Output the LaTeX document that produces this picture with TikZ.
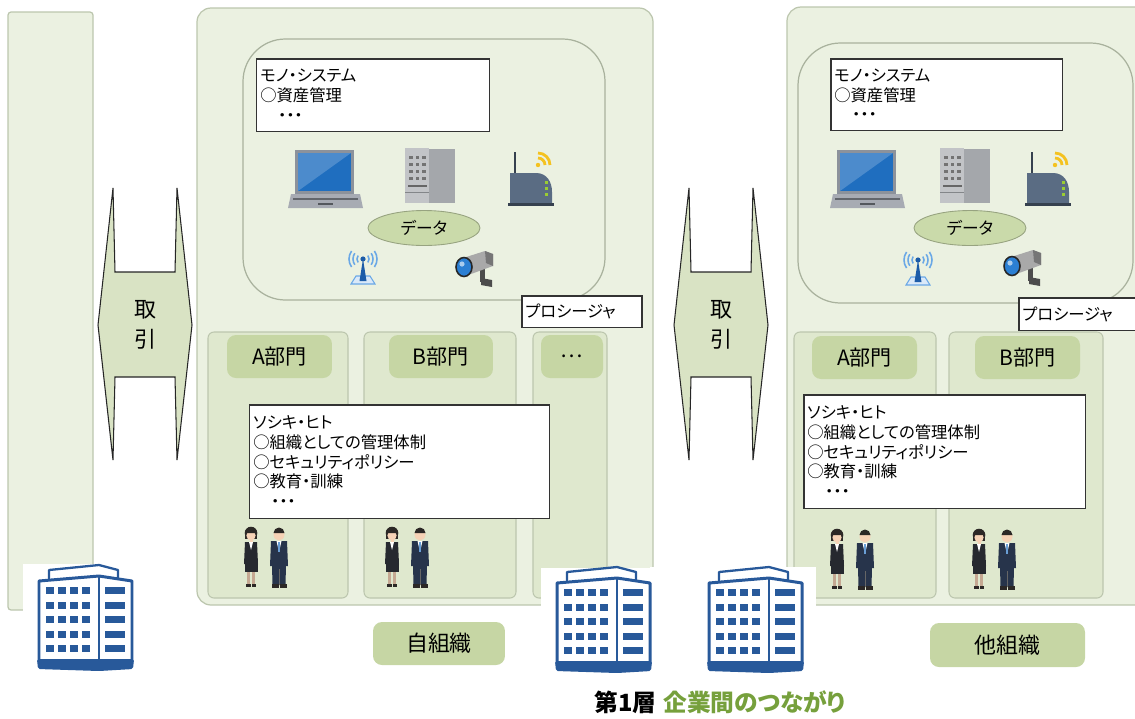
\documentclass[tikz,border=0pt]{standalone}
\usepackage{fontspec}
\newfontfamily\jp{Noto Sans CJK JP}[RawFeature=+palt]
\usetikzlibrary{shapes.geometric}

\definecolor{panelfill}{HTML}{EBF1E1}
\definecolor{panelline}{HTML}{BCC6AE}
\definecolor{deptfill}{HTML}{DFE8CE}
\definecolor{tabfill}{HTML}{C6D6A4}
\definecolor{datafill}{HTML}{CADAAA}
\definecolor{arrowfill}{HTML}{D9E3C4}
\definecolor{titlegreen}{HTML}{76A03C}
\definecolor{bldblue}{HTML}{28599A}
\definecolor{lapframe}{HTML}{8C929B}
\definecolor{lapblue}{HTML}{1F6EBF}
\definecolor{lapbase}{HTML}{A7ABB3}
\definecolor{srvfront}{HTML}{C2C4C7}
\definecolor{srvside}{HTML}{A4A7AB}
\definecolor{routerbody}{HTML}{5A6C83}
\definecolor{ledgreen}{HTML}{9ACD32}
\definecolor{wifiyellow}{HTML}{F4C220}
\definecolor{antblue}{HTML}{1C5CA8}
\definecolor{antwave}{HTML}{6AA8E6}
\definecolor{camgray}{HTML}{A9A9A9}
\definecolor{camblue}{HTML}{2B7FD3}
\definecolor{skin}{HTML}{F6D2B6}
\definecolor{hair}{HTML}{2C2826}
\definecolor{suit}{HTML}{26292F}
\definecolor{navy}{HTML}{27344B}
\definecolor{tieblue}{HTML}{6A9FD6}

\newcommand{\laptopicon}[2]{%
  \begin{scope}[shift={(#1,#2)}]
    \fill[lapframe] (7,0) rectangle (66,44);
    \fill[lapblue] (10,3) rectangle (63,41);
    \fill[lapblue!80!white] (10,3) -- (63,3) -- (10,41) -- cycle;
    \fill[lapbase] (3,44) -- (72,44) -- (75,58) -- (0,58) -- cycle;
    \draw[lapframe!70!black, line width=0.6pt] (5,49) -- (70,49);
    \fill[lapframe!60!black] (30,53) rectangle (45,55);
  \end{scope}}
\newcommand{\servericon}[2]{%
  \begin{scope}[shift={(#1,#2)}]
    \fill[srvfront] (0,0) rectangle (24,55);
    \fill[srvside] (24,1) rectangle (50,55);
    \foreach \i in {0,1,2}
      \foreach \j in {0,...,3}
        \fill[black!55] (4+6.5*\i,8+7*\j) rectangle ++(3.5,2.5);
    \fill[black!60] (3,37) rectangle (22,39);
    \draw[srvside!80!black, line width=0.4pt] (0,44) -- (24,44);
  \end{scope}}
\newcommand{\routericon}[2]{%
  \begin{scope}[shift={(#1,#2)}]
    \draw[routerbody!60!black, line width=1.4pt] (7,26) -- (7,4);
    \fill[routerbody] (2,57) -- (2,25) -- (28,25) .. controls (39,25) and (44,34) .. (44,44) -- (44,57) -- cycle;
    \fill[routerbody!60!black] (0,55) rectangle (46,58);
    \foreach \y in {33,39,45}
      \fill[ledgreen] (37,\y) rectangle ++(3,2.5);
    \fill[wifiyellow] (30,17) circle (2.2);
    \foreach \r in {7,12}
      \draw[wifiyellow, line width=1.6pt] (30,17) ++(0:\r) arc (0:-90:\r);
  \end{scope}}
\newcommand{\antennaicon}[2]{%
  \begin{scope}[shift={(#1,#2)}]
    \filldraw[fill=antwave!25, draw=antwave, line width=0.6pt] (8,34) -- (32,34) -- (27,26) -- (13,26) -- cycle;
    \fill[antblue] (20,9) -- (23.5,31) -- (16.5,31) -- cycle;
    \fill[antblue] (20,9) circle (2.6);
    \foreach \r in {6,10,14} {
      \draw[antwave, line width=0.9pt] (20,9) ++(145:\r) arc (145:215:\r);
      \draw[antwave, line width=0.9pt] (20,9) ++(-35:\r) arc (-35:35:\r);
    }
  \end{scope}}
\newcommand{\cameraicon}[2]{%
  \begin{scope}[shift={(#1,#2)}]
    \fill[black!70] (25,17) rectangle (30,31);
    \fill[black!70] (26,27) -- (37,29) -- (37,36) -- (26,34) -- cycle;
    \fill[camgray] (8,7) -- (30,0) -- (38,3) -- (38,15) -- (16,23) -- cycle;
    \fill[camgray!70!black] (30,0) -- (38,3) -- (38,15) -- (31,12) -- cycle;
    \filldraw[fill=camblue, draw=black!85, line width=0.9pt] (9,16) ellipse (8 and 9.5);
    \fill[camblue!40!white] (7,13) circle (2.6);
  \end{scope}}
\newcommand{\staffpair}[2]{%
  \begin{scope}[shift={(#1,#2)}]
    \fill[hair] (9,8) circle (6.3);
    \fill[hair] (2.7,8) rectangle (15.3,14);
    \fill[skin] (9,10.5) ellipse (4.6 and 5);
    \fill[hair] (4,8) arc (180:360:5) -- cycle;
    \fill[skin] (7.5,15) rectangle (10.5,18);
    \fill[suit] (3,17) -- (15,17) -- (16,39) -- (2,39) -- cycle;
    \fill[white] (7,17) -- (11,17) -- (9,25) -- cycle;
    \fill[suit] (2.5,38) rectangle (15.5,47);
    \fill[skin!80!black] (5,47) rectangle (8,59);
    \fill[skin!80!black] (10,47) rectangle (13,59);
    \fill[hair] (4,59) rectangle (8.5,62);
    \fill[hair] (9.5,59) rectangle (14,62);
    \fill[skin] (37,9.5) ellipse (5.5 and 6);
    \fill[hair] (31.5,8) arc (180:360:5.5) -- cycle;
    \fill[navy] (29,16) -- (45,16) -- (46,41) -- (28,41) -- cycle;
    \fill[white] (34.5,16) -- (39.5,16) -- (37,27) -- cycle;
    \fill[tieblue] (36.2,17) rectangle (37.8,27);
    \fill[navy] (30,40) -- (44,40) -- (43.5,60) -- (30.5,60) -- cycle;
    \draw[black!60, line width=0.3pt] (37,44) -- (37,60);
    \fill[hair] (29.5,59) rectangle (36.5,63);
    \fill[hair] (37.5,59) rectangle (44.5,63);
  \end{scope}}
\newcommand{\officebldg}[2]{%
  \begin{scope}[shift={(#1,#2)}]
    \filldraw[draw=bldblue, fill=white, line width=1.7pt, line join=round] (2,16) -- (62,11) -- (95,16) -- (95,97) -- (2,97) -- cycle;
    \draw[bldblue, line width=1.3pt, line join=round] (12,14) -- (12,5) -- (62,0) -- (81,5) -- (81,13);
    \draw[bldblue, line width=1pt] (62,11) -- (62,97);
    \foreach \j in {0,...,4} {
      \foreach \i in {0,...,3}
        \fill[bldblue] (9+12*\i,22+14.5*\j) rectangle ++(8,7);
      \fill[bldblue] (68,22+14.5*\j) rectangle ++(20,7);
    }
    \fill[bldblue, rounded corners=1pt] (0,94) -- (97,94) -- (96,104) -- (62,106) -- (1,104) -- cycle;
  \end{scope}}
\newcommand{\tradeshape}[3]{%
  \begin{scope}[shift={(#1,#2)}]
    \filldraw[fill=arrowfill, draw=black!85, line width=0.6pt] (2,84) -- (0,0) -- (-15,137) -- (0,272) -- (2,189) -- (62,189) -- (64,272) -- (79,137) -- (64,0) -- (62,84) -- cycle;
    \node[font=\jp\fontsize{12.5}{17}\selectfont, align=center] (#3) at (32,137) {取\\引};
  \end{scope}}

\begin{document}
\begin{tikzpicture}[x=0.02cm, y=-0.02cm,
  panel/.style={draw=panelline, fill=panelfill, line width=0.7pt, rounded corners=0.28cm},
  inner/.style={draw=panelline!90!black, fill=panelfill, line width=0.7pt, rounded corners=0.85cm},
  dept/.style={draw=panelline, fill=deptfill, line width=0.6pt, rounded corners=0.12cm},
  tab/.style={fill=tabfill, rounded corners=0.18cm, inner sep=0pt, font=\jp\fontsize{12}{14}\selectfont},
  memo/.style={draw=black!80, fill=white, line width=0.85pt, anchor=north west, align=left,
    inner xsep=2pt, inner ysep=0pt, font=\jp\fontsize{9.3}{11.2}\selectfont},
  data/.style={ellipse, draw=datafill!75!black, fill=datafill, line width=0.5pt, inner sep=0pt,
    minimum width=2.24cm, minimum height=0.7cm, font=\jp\fontsize{9.5}{11}\selectfont}]
  \useasboundingbox (0,0) rectangle (1135,718);
  \clip (0,0) rectangle (1135,718);

  \draw[panel, rounded corners=0.06cm] (8,12) rectangle (93,610);

  \draw[panel] (197,8) rectangle (653,605);
  \draw[inner] (243,39) rectangle (605,300);
  \node[memo, text width=4.52cm, minimum height=1.46cm] (monoA) at (256,58)
    {モノ・システム\\○資産管理\\\hspace{1.1em}・・・};
  \laptopicon{288}{150}
  \servericon{405}{148}
  \routericon{508}{148}
  \node[data] (dataA) at (424,228) {データ};
  \antennaicon{343}{250}
  \cameraicon{455}{251}
  \node[memo, text width=2.26cm, minimum height=0.64cm] (procA) at (521,295) {プロシージャ};
  \draw[dept] (208,332) rectangle (348,598);
  \draw[dept] (364,332) rectangle (516,598);
  \draw[dept] (533,332) rectangle (607,598);
  \node[tab, minimum width=2.1cm, minimum height=0.86cm] (deptAa) at (279.5,356.5) {A部門};
  \node[tab, minimum width=2.08cm, minimum height=0.86cm] (deptAb) at (441,356.5) {B部門};
  \node[tab, minimum width=1.24cm, minimum height=0.86cm] (deptAc) at (572,356.5) {…};
  \node[memo, text width=5.86cm, minimum height=2.28cm] (humanA) at (249,404)
    {ソシキ・ヒト\\○組織としての管理体制\\○セキュリティポリシー\\○教育・訓練\\\hspace{1.1em}・・・};
  \staffpair{242}{525}
  \staffpair{383}{525}

  \draw[panel] (787,7) rectangle (1160,605);
  \draw[inner] (798,43) rectangle (1133,303);
  \node[memo, text width=4.5cm, minimum height=1.44cm] (monoB) at (830,58)
    {モノ・システム\\○資産管理\\\hspace{1.1em}・・・};
  \laptopicon{830}{150}
  \servericon{940}{148}
  \routericon{1025}{148}
  \node[data] (dataB) at (970,228) {データ};
  \antennaicon{898}{251}
  \cameraicon{1003}{250}
  \node[memo, text width=2.6cm, minimum height=0.66cm] (procB) at (1018,297) {プロシージャ};
  \draw[dept] (794,332) rectangle (936,598);
  \draw[dept] (949,332) rectangle (1103,598);
  \node[tab, minimum width=2.1cm, minimum height=0.86cm] (deptBa) at (864.5,357.5) {A部門};
  \node[tab, minimum width=2.1cm, minimum height=0.86cm] (deptBb) at (1027.5,357.5) {B部門};
  \node[memo, text width=5.5cm, minimum height=2.28cm] (humanB) at (803,394)
    {ソシキ・ヒト\\○組織としての管理体制\\○セキュリティポリシー\\○教育・訓練\\\hspace{1.1em}・・・};
  \staffpair{828}{527}
  \staffpair{970}{527}

  \fill[white] (23,564) rectangle (140,614);
  \fill[white] (541,568) rectangle (660,614);
  \fill[white] (650,567) rectangle (816,614);
  \officebldg{37}{565}
  \officebldg{555}{567}
  \officebldg{707}{567}

  \node[tab, minimum width=2.64cm, minimum height=0.86cm, font=\jp\fontsize{12.5}{14}\selectfont] (ownorg) at (439,643.5) {自組織};
  \node[tab, minimum width=3.1cm, minimum height=0.88cm, font=\jp\fontsize{12.5}{14}\selectfont] (otherorg) at (1007.5,645) {他組織};

  \tradeshape{113}{188}{tradeL}
  \tradeshape{689}{188}{tradeR}

  \node[anchor=west, inner sep=0pt, font=\jp\bfseries\fontsize{13.5}{16}\selectfont] (layer) at (594,702)
    {第1層\hspace{0.3em}\textcolor{titlegreen}{企業間のつながり}};
\end{tikzpicture}
\end{document}
